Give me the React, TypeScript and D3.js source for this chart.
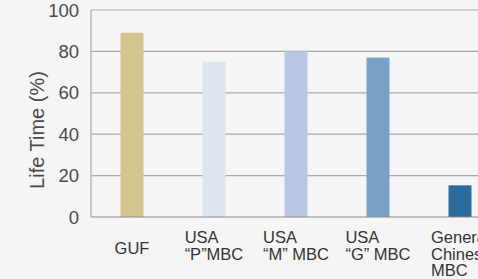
import React, { useEffect, useRef } from 'react';
import * as d3 from 'd3';

// data
const categories = ['GUF', 'USA P', 'USA M', 'USA G', 'General Chinese MBC'];
const labelLines = [
  ['GUF'],
  ['USA', '\u201CP\u201DMBC'],
  ['USA', '\u201CM\u201D MBC'],
  ['USA', '\u201CG\u201D MBC'],
  ['General', 'Chinese', 'MBC'],
];
const lifeTime = [89, 75, 80, 77, 15.3];
const barColors = ['#d6c48f', '#dce3f1', '#b8c7e3', '#77a1c8', '#2b6b9d'];
const yTicks = [0, 20, 40, 60, 80, 100];

const W = 478;
const H = 279;
const FONT = 'Liberation Sans, Arial, Helvetica, sans-serif';

export default function App() {
  const ref = useRef<SVGSVGElement>(null);

  useEffect(() => {
    const svg = d3.select(ref.current);
    svg.selectAll('*').remove();

    const left = 91, top = 10, bottom = 217;
    const x = d3.scaleBand<string>()
      .domain(categories)
      .range([left, left + 5 * 82])
      .paddingInner(0.72)
      .paddingOuter(0.36);
    const y = d3.scaleLinear().domain([0, 100]).range([bottom, top]);

    svg.append('rect').attr('width', W).attr('height', H).attr('fill', '#f5f5f5');

    // gridlines
    svg.append('g')
      .selectAll('line')
      .data(yTicks.filter(t => t > 0))
      .enter().append('line')
      .attr('x1', left).attr('x2', W)
      .attr('y1', d => y(d)).attr('y2', d => y(d))
      .attr('stroke', '#a8a8a8').attr('stroke-width', 1.2);

    // bars
    svg.append('g')
      .selectAll('rect')
      .data(lifeTime)
      .enter().append('rect')
      .attr('x', (d, i) => x(categories[i])!)
      .attr('width', x.bandwidth())
      .attr('y', d => y(d))
      .attr('height', d => y(0) - y(d))
      .attr('fill', (d, i) => barColors[i]);

    // axes lines
    svg.append('line')
      .attr('x1', left).attr('x2', left).attr('y1', top).attr('y2', bottom)
      .attr('stroke', '#a8a8a8').attr('stroke-width', 1.2);
    svg.append('line')
      .attr('x1', left).attr('x2', W).attr('y1', bottom).attr('y2', bottom)
      .attr('stroke', '#8c8c8c').attr('stroke-width', 1.2);

    // y tick labels
    svg.append('g')
      .selectAll('text')
      .data(yTicks)
      .enter().append('text')
      .attr('x', 79)
      .attr('y', d => y(d) + 6.5)
      .attr('text-anchor', 'end')
      .attr('font-family', FONT)
      .attr('font-size', 18.5)
      .attr('fill', '#4a4a4a')
      .text(d => d);

    // y title
    svg.append('text')
      .attr('transform', `translate(44,${130}) rotate(-90)`)
      .attr('text-anchor', 'middle')
      .attr('font-family', FONT)
      .attr('font-size', 20)
      .attr('fill', '#4a4a4a')
      .text('Life Time (%)');

    // category labels: left-aligned block centred under bar
    categories.forEach((c, i) => {
      const lines = labelLines[i];
      const g = svg.append('g');
      const t = g.append('text')
        .attr('font-family', FONT)
        .attr('font-size', 16.5)
        .attr('fill', '#333');
      const y0 = lines.length === 1 ? 253.5 : 243;
      lines.forEach((ln, j) => {
        t.append('tspan').attr('x', 0).attr('y', y0 + j * 16.5).text(ln);
      });
      const bw = (t.node() as SVGTextElement).getBBox().width;
      const cx = x(c)! + x.bandwidth() / 2;
      const shift = i === categories.length - 1 ? cx - 29 : cx - bw / 2;
      g.attr('transform', `translate(${shift},0)`);
    });
  }, []);

  return <svg ref={ref} width={W} height={H} style={{ display: 'block', position: 'absolute', left: 0, top: 0 }} />;
}
